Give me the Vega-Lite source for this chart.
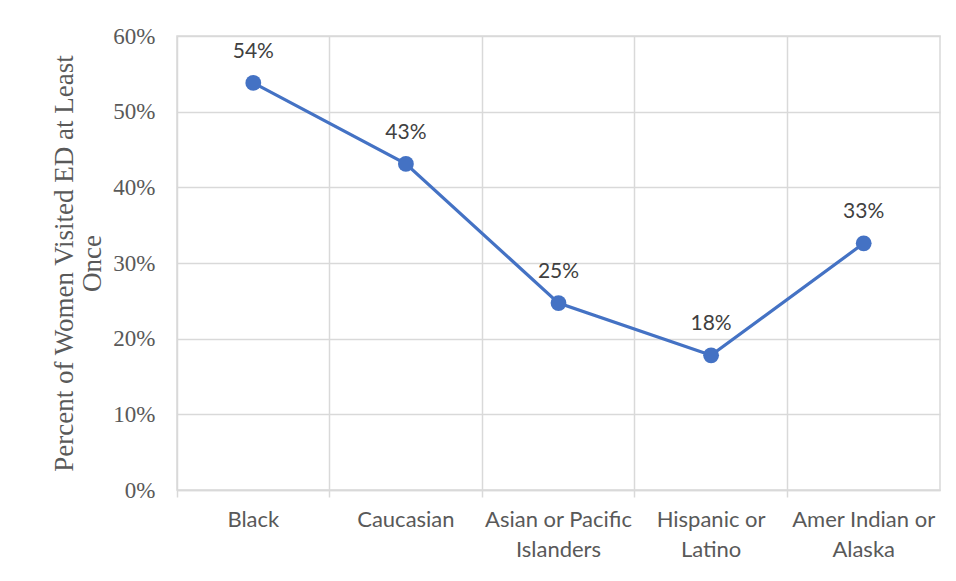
{
  "$schema": "https://vega.github.io/schema/vega-lite/v6.json",
  "width": 763,
  "height": 454,
  "autosize": {"type": "none"},
  "padding": {"left": 177, "top": 36, "right": 16, "bottom": 91},
  "background": "white",
  "config": {
    "view": {"stroke": "#d9d9d9", "strokeWidth": 1.5},
    "axis": {"gridColor": "#d9d9d9", "gridWidth": 1.5}
  },
  "data": {
    "values": [
      {"group": "Black", "pct": 0.538},
      {"group": "Caucasian", "pct": 0.431},
      {"group": "Asian or Pacific Islanders", "pct": 0.247},
      {"group": "Hispanic or Latino", "pct": 0.178},
      {"group": "Amer Indian or Alaska", "pct": 0.326}
    ]
  },
  "encoding": {
    "x": {
      "field": "group",
      "type": "nominal",
      "sort": null,
      "scale": {"type": "band", "paddingInner": 0, "paddingOuter": 0},
      "axis": {
        "title": null,
        "labelAngle": 0,
        "labelFont": "Lato",
        "labelFontSize": 22,
        "labelColor": "#595959",
        "labelBaseline": "top",
        "labelPadding": 12,
        "labelLineHeight": 30,
        "labelExpr": "datum.label == 'Asian or Pacific Islanders' ? ['Asian or Pacific', 'Islanders'] : datum.label == 'Hispanic or Latino' ? ['Hispanic or', 'Latino'] : datum.label == 'Amer Indian or Alaska' ? ['Amer Indian or', 'Alaska'] : datum.label",
        "grid": true,
        "ticks": true,
        "bandPosition": 0,
        "tickSize": 7,
        "tickColor": "#d9d9d9",
        "tickWidth": 1.5,
        "domainColor": "#d9d9d9",
        "domainWidth": 1.5
      }
    },
    "y": {
      "field": "pct",
      "type": "quantitative",
      "scale": {"domain": [0, 0.6]},
      "axis": {
        "format": ".0%",
        "values": [0, 0.1, 0.2, 0.3, 0.4, 0.5, 0.6],
        "labelOverlap": false,
        "labelFont": "Liberation Serif",
        "labelFontSize": 23,
        "labelColor": "#595959",
        "labelPadding": 22,
        "ticks": false,
        "domain": false,
        "title": ["Percent of Women Visited ED at Least", "Once"],
        "titleFont": "Liberation Serif",
        "titleFontSize": 27,
        "titleFontWeight": "normal",
        "titleColor": "#595959",
        "titleLineHeight": 28,
        "titleBaseline": "middle",
        "titleX": -113,
        "titleY": 227,
        "titleAngle": -90
      }
    }
  },
  "layer": [
    {
      "mark": {"type": "line", "color": "#4472C4", "strokeWidth": 3.2}
    },
    {
      "mark": {"type": "point", "filled": true, "opacity": 1, "color": "#4472C4", "size": 250}
    },
    {
      "mark": {"type": "text", "font": "Lato", "fontSize": 21, "color": "#404040", "dy": -31},
      "encoding": {
        "text": {"field": "pct", "type": "quantitative", "format": ".0%"}
      }
    }
  ]
}
